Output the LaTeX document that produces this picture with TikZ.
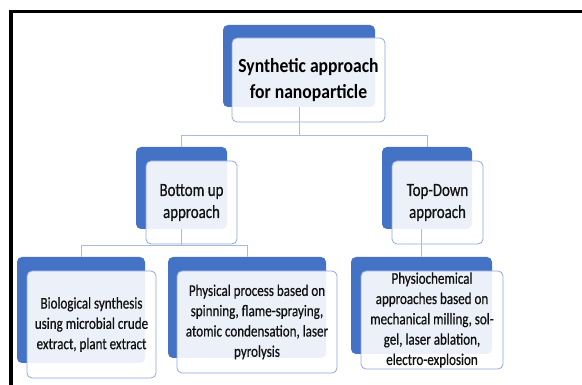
\documentclass[tikz,border=0pt]{standalone}
\usepackage{fontspec}
\setmainfont{Carlito}[FakeStretch=0.8, FakeBold=0.6]
\newfontfamily\titlefont{Carlito}[FakeStretch=0.88]
\definecolor{backblue}{HTML}{4472C4}
\definecolor{frontedge}{HTML}{8EA9DB}
\definecolor{conn}{HTML}{A9BCE0}
\definecolor{txt}{HTML}{111111}
\tikzset{
  backbox/.style={draw=none, fill=backblue, rounded corners=5pt, inner sep=0pt, minimum width=#1},
  frontbox/.style={draw=frontedge, line width=0.8pt, fill=white, fill opacity=0.9, text opacity=1, text=txt, rounded corners=5pt, inner sep=0pt, align=center, minimum width=#1, font=\fontsize{16.3}{20.3}\selectfont},
  midtext/.style={font=\fontsize{18.6}{22}\selectfont},
  connector/.style={draw=conn, line width=0.9pt},
}
\begin{document}
\begin{tikzpicture}[x=1pt,y=-1pt]
\useasboundingbox (0,0) rectangle (582,385);
\draw[line width=3.5pt] (11,386) -- (11,11.5) -- (583,11.5);
% back boxes
\node[backbox=152pt, minimum height=82pt] (topb) at (299,66) {};
\node[backbox=91pt, minimum height=82pt] (bub) at (181.5,188) {};
\node[backbox=90pt, minimum height=82pt] (tdb) at (427,188) {};
\node[backbox=128pt, minimum height=106pt] (c1b) at (81,310) {};
\node[backbox=158pt, minimum height=101pt] (c2b) at (247,307.5) {};
\node[backbox=141pt, minimum height=97pt] (c3b) at (421.5,305.5) {};
% front boxes
\node[frontbox=153pt, minimum height=84pt, font=\titlefont\fontsize{20}{26}\selectfont\bfseries, text=black] (top) at (308.5,80) {Synthetic approach\\for nanoparticle};
\node[frontbox=91pt, minimum height=83pt, midtext] (bu) at (191.5,202.5) {Bottom up\\approach};
\node[frontbox=91pt, minimum height=83pt, midtext] (td) at (437.5,202.5) {Top-Down\\approach};
\node[frontbox=129pt, minimum height=107pt] (c1) at (91.5,324.5) {Biological synthesis\\using microbial crude\\extract, plant extract};
\node[frontbox=160pt, minimum height=102pt] (c2) at (257,322) {Physical process based on\\spinning, flame-spraying,\\atomic condensation, laser\\pyrolysis};
\node[frontbox=142pt, minimum height=98pt] (c3) at (432,320) {Physiochemical\\approaches based on\\mechanical milling, sol-\\gel, laser ablation,\\electro-explosion};
% connectors
\coordinate (j1) at (299,135);
\coordinate (j2) at (181.5,245);
\draw[connector] (topb.south) -- (j1);
\draw[connector] (j1 -| bub.north) -- (j1 -| tdb.north);
\draw[connector] (j1 -| bub.north) -- (bub.north);
\draw[connector] (j1 -| tdb.north) -- (tdb.north);
\draw[connector] (bub.south) -- (j2);
\draw[connector] (j2 -| c1b.north) -- (j2 -| c2b.north);
\draw[connector] (j2 -| c1b.north) -- (c1b.north);
\draw[connector] (j2 -| c2b.north) -- (c2b.north);
\draw[connector] (tdb.south -| c3b.north) -- (c3b.north);
\end{tikzpicture}
\end{document}
